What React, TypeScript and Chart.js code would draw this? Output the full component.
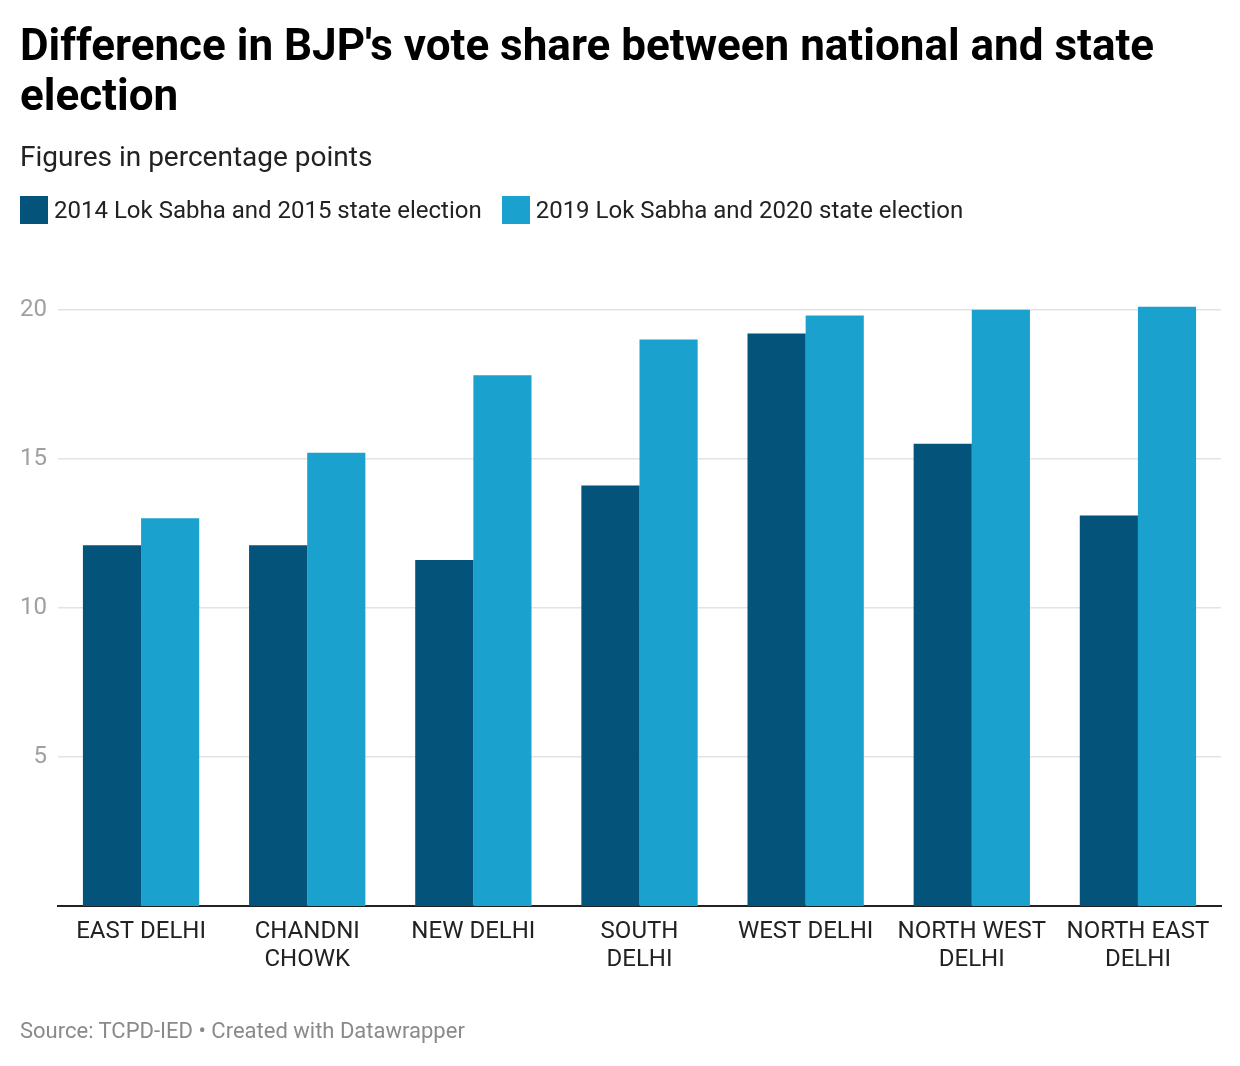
import React, { useEffect, useRef } from "react";
import { Chart, registerables } from "chart.js";

Chart.register(...registerables);

const categories: (string | string[])[] = [
  "EAST DELHI",
  ["CHANDNI", "CHOWK"],
  "NEW DELHI",
  ["SOUTH", "DELHI"],
  "WEST DELHI",
  ["NORTH WEST", "DELHI"],
  ["NORTH EAST", "DELHI"],
];
const series2014Label = "2014 Lok Sabha and 2015 state election";
const series2019Label = "2019 Lok Sabha and 2020 state election";
const series2014 = [12.1, 12.1, 11.6, 14.1, 19.2, 15.5, 13.1];
const series2019 = [13.0, 15.2, 17.8, 19.0, 19.8, 20.0, 20.1];
const yTicks = [5, 10, 15, 20];

const DARK = "#03537a";
const LIGHT = "#1ba1ce";
const FONT = "Roboto, 'Noto Sans', sans-serif";

export default function App() {
  const canvasRef = useRef<HTMLCanvasElement | null>(null);

  useEffect(() => {
    document.body.style.margin = "0";
    const ctx = canvasRef.current;
    if (!ctx) return;
    const chart = new Chart(ctx, {
      type: "bar",
      data: {
        labels: categories,
        datasets: [
          {
            label: series2014Label,
            data: series2014,
            backgroundColor: DARK,
            categoryPercentage: 0.7,
            barPercentage: 1.0,
          },
          {
            label: series2019Label,
            data: series2019,
            backgroundColor: LIGHT,
            categoryPercentage: 0.7,
            barPercentage: 1.0,
          },
        ],
      },
      options: {
        responsive: false,
        animation: false,
        events: [],
        layout: { padding: { left: 21, right: 19, top: 250, bottom: 0 } },
        plugins: {
          legend: { display: false },
          tooltip: { enabled: false },
          title: { display: false },
        },
        scales: {
          x: {
            grid: { display: false, drawTicks: false },
            border: { display: true, color: "#222222", width: 2 },
            ticks: {
              color: "#222222",
              font: { family: FONT, size: 24, lineHeight: 1.167 },
              padding: 12,
              maxRotation: 0,
              autoSkip: false,
            },
            afterFit: (scale: any) => {
              scale.height = 160;
            },
          },
          y: {
            min: 0,
            max: 22,
            grid: { color: "#e3e3e3", lineWidth: 1.5, drawTicks: false },
            border: { display: false },
            ticks: {
              color: "#a0a0a0",
              font: { family: FONT, size: 24 },
              padding: 11,
            },
            afterBuildTicks: (scale: any) => {
              scale.ticks = yTicks.map((v) => ({ value: v }));
            },
            afterFit: (scale: any) => {
              scale.width = 37;
            },
          },
        },
      },
    });
    return () => chart.destroy();
  }, []);

  const textBase: React.CSSProperties = {
    position: "absolute",
    fontFamily: FONT,
    margin: 0,
    whiteSpace: "nowrap",
  };

  return (
    <div style={{ position: "relative", width: 1240, height: 1066, background: "#fff", overflow: "hidden" }}>
      <canvas
        ref={canvasRef}
        width={1240}
        height={1066}
        style={{ position: "absolute", left: 0, top: 0, width: 1240, height: 1066 }}
      />
      <div
        style={{
          ...textBase,
          left: 20,
          top: 20,
          fontSize: 44,
          fontWeight: 700,
          lineHeight: "50px",
          color: "#000",
          whiteSpace: "normal",
          width: 1210,
        }}
      >
        Difference in BJP's vote share between national and state
        <br />
        election
      </div>
      <div style={{ ...textBase, left: 20, top: 139, fontSize: 28, lineHeight: "36px", color: "#222" }}>
        Figures in percentage points
      </div>
      <div style={{ ...textBase, left: 20, top: 195, display: "flex", alignItems: "center", fontSize: 24, lineHeight: "30px", color: "#222" }}>
        <span style={{ display: "inline-block", width: 28, height: 28, background: DARK, marginRight: 6 }} />
        <span>{series2014Label}</span>
        <span style={{ display: "inline-block", width: 28, height: 28, background: LIGHT, marginLeft: 20, marginRight: 6 }} />
        <span>{series2019Label}</span>
      </div>
      <div style={{ ...textBase, left: 20, top: 1016, fontSize: 22, lineHeight: "30px", color: "#8a8a8a" }}>
        Source: TCPD-IED • Created with Datawrapper
      </div>
    </div>
  );
}
